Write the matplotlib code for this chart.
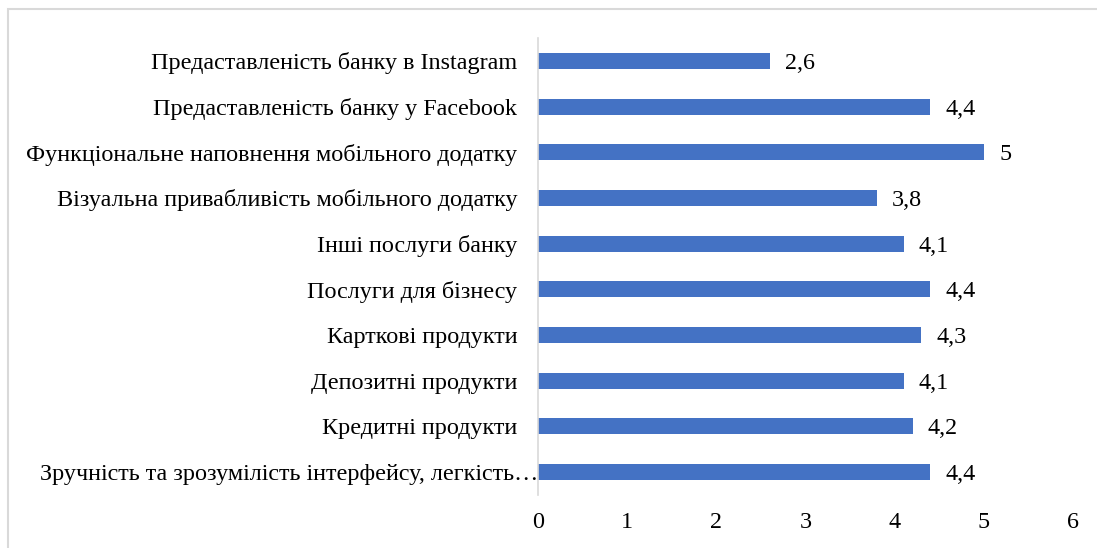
import matplotlib.pyplot as plt
from matplotlib.patches import Rectangle
from matplotlib.transforms import ScaledTranslation

plt.rcParams['font.family'] = ['Liberation Serif', 'DejaVu Serif']

categories = [
    'Зручність та зрозумілість інтерфейсу, легкість…',
    'Кредитні продукти',
    'Депозитні продукти',
    'Карткові продукти',
    'Послуги для бізнесу',
    'Інші послуги банку',
    'Візуальна привабливість мобільного додатку',
    'Функціональне наповнення мобільного додатку',
    'Предаставленість банку у Facebook',
    'Предаставленість банку в Instagram',
]
values = [4.4, 4.2, 4.1, 4.3, 4.4, 4.1, 3.8, 5, 4.4, 2.6]
xticks = [0, 1, 2, 3, 4, 5, 6]

bar_color = '#4472C4'
fs = 17.4

fig = plt.figure(figsize=(10.97, 5.48), dpi=100)
ax = fig.add_axes([538 / 1097, 1 - 495 / 548, 535 / 1097, 457 / 548])

pos = range(len(categories))
ax.barh(pos, values, height=0.35, color=bar_color)
for y, v in zip(pos, values):
    ax.annotate(f'{v:g}'.replace('.', ','), (v, y), xytext=(11, 0),
                textcoords='offset points', va='center_baseline', ha='left',
                fontsize=fs, color='#000000')

ax.set_xlim(0, 6)
ax.set_ylim(-0.5, len(categories) - 0.5)
ax.set_xticks(xticks)
ax.set_xticklabels([str(t) for t in xticks], fontsize=fs)
ax.set_yticks(list(pos))
ax.set_yticklabels(categories, fontsize=fs)
ax.tick_params(axis='both', length=0)
ax.tick_params(axis='x', pad=12)
ax.tick_params(axis='y', pad=15)

# the truncated label runs up to the axis line
lbl = ax.get_yticklabels()[0]
lbl.set_transform(lbl.get_transform() + ScaledTranslation(0.21, 0, fig.dpi_scale_trans))

for side in ['top', 'right', 'bottom']:
    ax.spines[side].set_visible(False)
ax.spines['left'].set_color('#d9d9d9')
ax.spines['left'].set_linewidth(1.2)

# chart frame
fig.patches.append(Rectangle((8 / 1097, -0.1), 1.2, 1 - 9 / 548 + 0.1,
                             transform=fig.transFigure, fill=False,
                             edgecolor='#d9d9d9', linewidth=1.5))

fig.savefig('out.png', dpi=100)
